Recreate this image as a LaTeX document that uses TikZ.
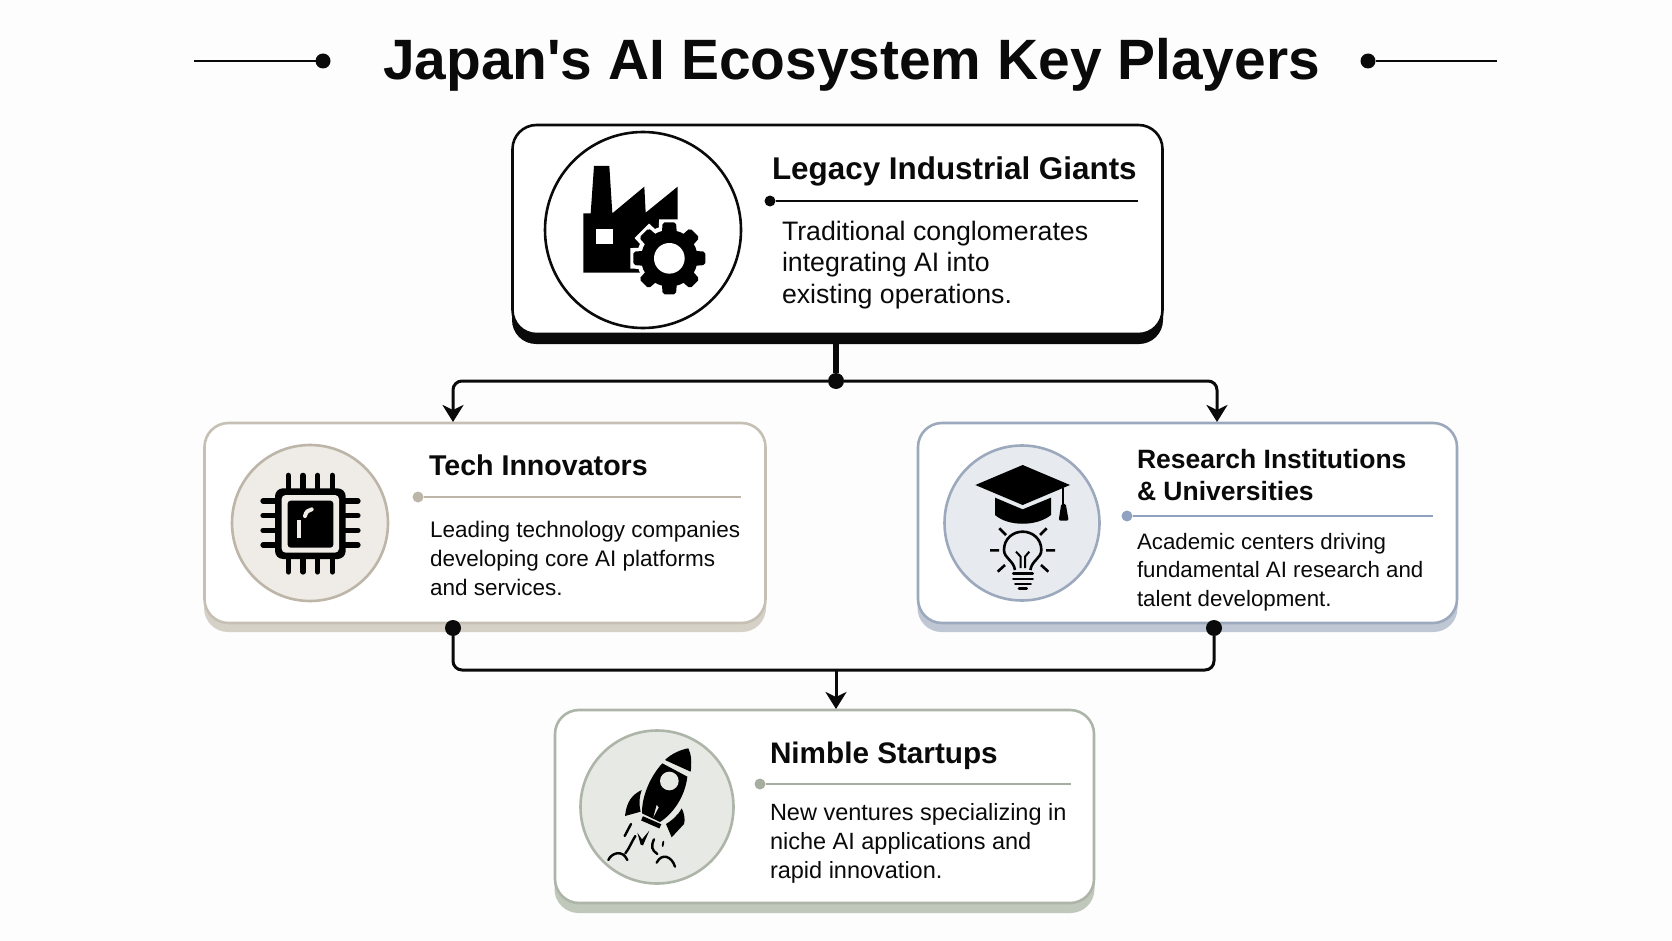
\documentclass[tikz,border=0pt]{standalone}
\usepackage{fontspec}
\setmainfont{Liberation Sans}
\newfontfamily\titlefont{Liberation Sans}
\usetikzlibrary{arrows.meta}
\definecolor{bgc}{HTML}{FDFDFD}
\definecolor{ink}{HTML}{0A0A0A}
\definecolor{techedge}{HTML}{C6BFB3}
\definecolor{techshade}{HTML}{D6D1C7}
\definecolor{techfill}{HTML}{EFECE7}
\definecolor{techrule}{HTML}{BDB5A8}
\definecolor{resedge}{HTML}{9CA9BD}
\definecolor{resshade}{HTML}{BFC7D4}
\definecolor{resfill}{HTML}{E7EAEF}
\definecolor{resrule}{HTML}{8FA3C0}
\definecolor{stedge}{HTML}{ADB5A8}
\definecolor{stshade}{HTML}{C0C7BB}
\definecolor{stfill}{HTML}{E7E9E5}
\definecolor{strule}{HTML}{A6AE9F}
\newcommand{\headtxt}[3]{\parbox[t]{520pt}{\raggedright\fontsize{#1}{#2}\selectfont\bfseries #3}}
\newcommand{\bodytxt}[3]{\parbox[t]{420pt}{\raggedright\fontsize{#1}{#2}\selectfont #3}}
\tikzset{
  x=1pt,y=-1pt,
  cardbox/.style={rectangle,rounded corners=24pt,draw=#1,fill=white,line width=2.6pt,outer sep=0pt,inner sep=0pt},
  cardshade/.style={rectangle,rounded corners=24pt,fill=#1,outer sep=0pt,inner sep=0pt},
  badge/.style={circle,draw=#1,line width=2.6pt,outer sep=0pt,inner sep=0pt},
  label/.style={anchor=base west,inner sep=0pt,outer sep=0pt,text=ink},
  hubdot/.style={circle,fill=ink,minimum size=16pt,inner sep=0pt,outer sep=0pt},
  ruledot/.style={circle,fill=#1,minimum size=11pt,inner sep=0pt,outer sep=0pt},
  wire/.style={draw=ink,line width=3pt,rounded corners=9pt},
  arrowwire/.style={wire,-{Stealth[length=17pt,width=21pt,inset=5pt]}},
  icon/.style={shift={#1},x=0.33333pt,y=-0.33333pt},
}
\begin{document}
\begin{tikzpicture}
\useasboundingbox (0,0) rectangle (1672,941);
\fill[bgc] (0,0) rectangle (1672,941);

% title
\node[label] (title) at (383,80) {\titlefont\fontsize{56.9}{60}\selectfont\bfseries Japan's AI Ecosystem Key Players};
\coordinate (tlend) at (194,61);
\node[hubdot,minimum size=15pt] (tldot) at (323,61) {};
\coordinate (trend) at (1497,61);
\node[hubdot,minimum size=15pt] (trdot) at (1368,61) {};
\draw[ink,line width=2.8pt] (tlend) -- (tldot);
\draw[ink,line width=2.8pt] (trend) -- (trdot);

% cards
\node[cardshade=ink,minimum width=651pt,minimum height=209pt] (legacyshade) at (837.5,239.5) {};
\node[cardbox=ink,minimum width=650pt,minimum height=209pt] (legacy) at (837.5,229.5) {};
\node[cardshade=techshade,minimum width=562pt,minimum height=200pt] (techshadebox) at (485,532) {};
\node[cardbox=techedge,minimum width=561pt,minimum height=200pt] (tech) at (485,523) {};
\node[cardshade=resshade,minimum width=540pt,minimum height=200pt] (resshadebox) at (1187.5,532) {};
\node[cardbox=resedge,minimum width=539pt,minimum height=200pt] (res) at (1187.5,523) {};
\node[cardshade=stshade,minimum width=540pt,minimum height=193pt] (stshadebox) at (824.5,816.5) {};
\node[cardbox=stedge,minimum width=539pt,minimum height=193pt] (startup) at (824.5,806.5) {};

% badges
\node[badge=ink,fill=white,minimum size=196pt] (legacybadge) at (643,230) {};
\node[badge=techrule,fill=techfill,minimum size=156pt] (techbadge) at (310,523) {};
\node[badge=resedge,fill=resfill,minimum size=155pt] (resbadge) at (1022,523) {};
\node[badge=stedge,fill=stfill,minimum size=153pt] (stbadge) at (657,807) {};

% legacy text
\node[label] (legacyhead) at (772,180) {\headtxt{31.4}{34}{Legacy Industrial Giants}};
\node[ruledot=ink] (legacydot) at (770,201) {};
\coordinate (legacyend) at (1138,201);
\draw[ink,line width=2.5pt] (legacydot) -- (legacyend);
\node[label] (legacybody) at (782,240.5) {\bodytxt{26.7}{31.5}{Traditional conglomerates\\integrating AI into\\existing operations.}};

% tech text
\node[label] (techhead) at (429,475) {\headtxt{28.6}{32}{Tech Innovators}};
\node[ruledot=techrule] (techdot) at (418,497) {};
\coordinate (techend) at (741,497);
\draw[techrule,line width=2.5pt] (techdot) -- (techend);
\node[label] (techbody) at (430,537) {\bodytxt{22.5}{29}{Leading technology companies\\developing core AI platforms\\and services.}};

% research text
\node[label] (reshead) at (1137,468) {\headtxt{26.5}{32}{Research Institutions\\\& Universities}};
\node[ruledot=resrule] (resdot) at (1127,516) {};
\coordinate (resend) at (1433,516);
\draw[resrule,line width=2.5pt] (resdot) -- (resend);
\node[label] (resbody) at (1137,549) {\bodytxt{22.3}{28.5}{Academic centers driving\\fundamental AI research and\\talent development.}};

% startup text
\node[label] (sthead) at (770,763) {\headtxt{29.7}{32}{Nimble Startups}};
\node[ruledot=strule] (stdot) at (760,784) {};
\coordinate (stend) at (1071,784);
\draw[strule,line width=2.5pt] (stdot) -- (stend);
\node[label] (stbody) at (770,820) {\bodytxt{23.5}{29}{New ventures specializing in\\niche AI applications and\\rapid innovation.}};

% connectors
\node[hubdot] (hub) at (836,381) {};
\coordinate (techin) at (453,422);
\coordinate (resin) at (1217,422);
\draw[ink,line width=6pt] (legacyshade.south -| hub) -- (hub);
\draw[arrowwire] (hub) -| (techin);
\draw[arrowwire] (hub) -| (resin);
\node[hubdot] (techout) at (453,628) {};
\node[hubdot] (resout) at (1214,628) {};
\coordinate (merge) at (836,670);
\coordinate (startin) at (836,709);
\draw[wire] (techout) |- (merge);
\draw[wire] (resout) |- (merge);
\draw[arrowwire] (merge) -- (startin);

% factory icon
\begin{scope}[icon={(500,110)}]
\fill[black] (282,168) -- (328,168) -- (337,310) -- (433,230) -- (437,308) -- (533,230) -- (533,340) -- (420,488) -- (250,488) -- (250,310) -- (272,310) -- cycle;
\fill[white] (287,358) rectangle (338,402);
\foreach \a in {0,45,...,315}{
  \draw[white,line width=6pt,rotate around={\a:(508,445)}] (482,445) -- (486,337) -- (530,337) -- (534,445);
}
\fill[white] (508,445) circle (98);
\foreach \a in {0,45,...,315}{
  \fill[black,rotate around={\a:(508,445)},rounded corners=2pt] (480,445) -- (488,337) -- (528,337) -- (536,445) -- cycle;
}
\fill[black] (508,445) circle (85);
\fill[white] (508,445) circle (46);
\end{scope}

% chip icon
\begin{scope}[icon={(190,410)}]
\foreach \p in {295,339,383,427}{
  \draw[black,line width=5.2pt,line cap=round] (\p,196) -- (\p,486);
  \draw[black,line width=5.2pt,line cap=round] (219,\p-22) -- (504,\p-22);
}
\fill[black,rounded corners=8pt] (255,235) rectangle (467,447);
\fill[techfill,rounded corners=4pt] (275,255) rectangle (447,428);
\fill[black,rounded corners=3pt] (293,272) rectangle (430,413);
\fill[techfill] (320,330) rectangle (333,385);
\draw[techfill,line width=4pt,line cap=round] (345,318) .. controls (348,305) and (355,300) .. (365,298);
\end{scope}

% graduation cap and bulb icon
\begin{scope}[icon={(900,410)}]
\fill[black] (368,165) -- (510,225) -- (368,285) -- (226,225) -- cycle;
\fill[black] (285,263) -- (368,298) -- (453,263) -- (453,315) .. controls (410,350) and (325,350) .. (285,315) -- cycle;
\draw[black,line width=2pt] (490,235) -- (490,285);
\fill[black,rounded corners=2pt] (484,280) -- (497,280) -- (506,332) -- (476,332) -- cycle;
\draw[black,line width=2.6pt] (345,480) .. controls (340,450) and (312,445) .. (312,420) .. controls (312,385) and (340,365) .. (368,365) .. controls (396,365) and (424,385) .. (424,420) .. controls (424,445) and (396,450) .. (391,480);
\draw[black,line width=2.8pt,line cap=round] (340,490) -- (398,490) (340,507) -- (398,507) (346,522) -- (392,522);
\draw[black,line width=2.6pt,line cap=round] (357,535) -- (380,535);
\draw[black,line width=2.6pt] (298,355) -- (318,375) (440,355) -- (420,375) (270,421) -- (297,421) (438,421) -- (465,421) (293,485) -- (315,465) (445,485) -- (423,465);
\draw[black,line width=2pt] (348,425) -- (362,440) -- (362,474) (388,425) -- (375,440) -- (375,474);
\end{scope}

% rocket icon
\begin{scope}[icon={(550,700)}]
\fill[black] (345,180) .. controls (365,160) and (395,148) .. (415,145) .. controls (425,165) and (425,190) .. (422,215) -- cycle;
\fill[black] (337,190) -- (412,230) .. controls (405,290) and (370,340) .. (330,366) -- (276,340) .. controls (275,290) and (300,230) .. (337,190) -- cycle;
\fill[stfill] (358,243) circle (28);
\fill[stfill] (320,315) -- (326,322) -- (310,352) -- cycle;
\draw[black,line width=4.6pt] (276,355) -- (331,379);
\fill[black] (275,270) .. controls (245,285) and (230,305) .. (225,348) -- (272,335) .. controls (266,310) and (268,290) .. (275,270) -- cycle;
\fill[black] (395,325) .. controls (405,345) and (405,360) .. (402,372) -- (365,412) -- (348,372) .. controls (365,362) and (385,345) .. (395,325) -- cycle;
\draw[black,line width=2.4pt,line cap=round] (243,372) -- (224,408);
\fill[black] (262,398) -- (276,418) -- (298,392) -- (279,436) -- (272,434) -- cycle;
\draw[black,line width=1.8pt,line cap=round] (340,425) -- (338,438);
\draw[black,line width=2.4pt,line cap=round] (256,408) .. controls (245,425) and (238,445) .. (226,460) (175,480) .. controls (185,458) and (218,448) .. (232,480);
\draw[black,line width=2.4pt,line cap=round] (312,418) .. controls (302,440) and (305,450) .. (322,462) (320,488) .. controls (335,458) and (365,468) .. (375,500);
\end{scope}
\end{tikzpicture}
\end{document}
